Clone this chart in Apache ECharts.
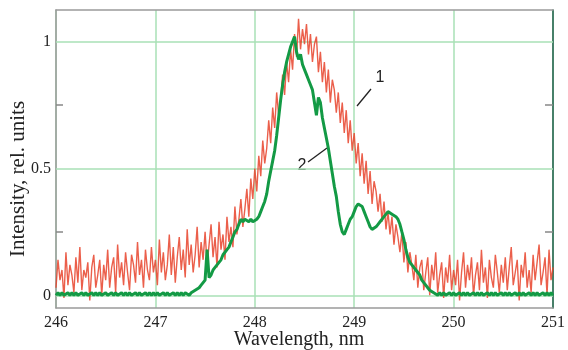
<!DOCTYPE html>
<html>
<head>
<meta charset="utf-8">
<script src="https://cdn.jsdelivr.net/npm/echarts@6/dist/echarts.min.js"></script>
<style>
html,body{margin:0;padding:0;background:#fff;}
#chart{width:568px;height:350px;}
</style>
</head>
<body>
<div id="chart"></div>
<script>
// Sampling grid of the spectra (nm)
const wavelengthStart = 246;
const wavelengthStep = 0.02;

// Curve 1 (red, noisy), one value per 0.02 nm from 246.00 to 251.00
const intensity1 = [
  0.03,0.14,0.06,0.10,-0.01,0.17,0.04,0.12,0.08,0.01,0.15,0.05,0.19,0.02,0.10,0.07,0.13,-0.02,0.11,0.16,0.03,0.08,0.14,0.00,0.12,
  0.06,0.18,0.03,0.11,0.15,0.01,0.20,0.07,0.13,0.04,0.17,0.09,0.02,0.16,0.12,0.05,0.21,0.08,0.14,0.03,0.18,0.10,0.06,0.19,0.09,
  0.14,0.04,0.22,0.09,0.17,0.06,0.12,0.24,0.08,0.19,0.05,0.15,0.23,0.10,0.18,0.07,0.26,0.12,0.20,0.09,0.16,0.27,0.11,0.21,0.14,
  0.25,0.12,0.20,0.28,0.15,0.23,0.11,0.29,0.18,0.24,0.14,0.31,0.21,0.27,0.19,0.35,0.24,0.30,0.38,0.27,0.34,0.42,0.31,0.46,0.38,
  0.50,0.41,0.55,0.47,0.61,0.52,0.58,0.69,0.60,0.74,0.66,0.80,0.71,0.77,0.87,0.79,0.92,0.84,0.97,0.89,1.03,0.94,1.09,0.97,1.05,
  0.99,1.07,0.95,1.03,0.92,0.99,1.02,0.88,0.96,0.84,0.92,0.80,0.89,0.76,0.85,0.81,0.72,0.80,0.68,0.76,0.64,0.73,0.60,0.69,0.57,
  0.64,0.52,0.60,0.47,0.56,0.44,0.53,0.40,0.49,0.36,0.45,0.41,0.33,0.40,0.29,0.37,0.26,0.33,0.24,0.31,0.20,0.28,0.23,0.17,0.25,
  0.13,0.21,0.09,0.17,0.12,0.06,0.16,0.03,0.11,0.14,0.02,0.09,0.15,0.00,0.12,0.06,0.17,0.01,0.08,0.13,-0.01,0.11,0.05,0.16,0.02,
  0.10,0.04,0.14,-0.02,0.09,0.17,0.03,0.12,0.06,0.15,0.00,0.08,0.13,0.02,0.18,0.05,0.11,-0.01,0.14,0.07,0.03,0.16,0.09,0.01,0.12,
  0.05,0.15,0.02,0.11,0.19,0.04,0.09,0.14,-0.02,0.12,0.07,0.17,0.03,0.10,0.01,0.16,0.06,0.13,0.20,0.04,0.09,0.15,0.00,0.18,0.06,
  0.11
];

// Curve 2 (green), one value per 0.02 nm from 246.00 to 251.00
const intensity2 = [
  0.00,0.01,0.00,0.01,0.00,0.00,0.01,0.00,0.01,0.00,0.01,0.00,0.00,0.01,0.00,0.01,0.00,0.00,0.01,0.00,0.01,0.00,0.01,0.00,0.00,
  0.01,0.00,0.00,0.01,0.00,0.01,0.00,0.00,0.01,0.00,0.01,0.00,0.01,0.00,0.00,0.01,0.00,0.01,0.00,0.00,0.01,0.00,0.01,0.00,0.01,
  0.00,0.01,0.00,0.00,0.01,0.00,0.01,0.00,0.00,0.01,0.00,0.01,0.00,0.01,0.00,0.01,0.01,0.00,0.01,0.01,0.02,0.02,0.03,0.04,0.05,
  0.06,0.18,0.07,0.08,0.10,0.11,0.12,0.13,0.14,0.16,0.17,0.18,0.19,0.21,0.23,0.25,0.26,0.28,0.30,0.29,0.30,0.30,0.29,0.30,0.29,
  0.29,0.30,0.31,0.33,0.35,0.37,0.40,0.45,0.49,0.53,0.57,0.63,0.70,0.77,0.83,0.88,0.92,0.95,0.98,1.00,1.02,0.96,0.93,0.95,0.91,
  0.89,0.87,0.85,0.83,0.81,0.76,0.71,0.78,0.76,0.70,0.66,0.62,0.58,0.53,0.48,0.43,0.39,0.33,0.28,0.25,0.24,0.26,0.28,0.30,0.31,
  0.33,0.35,0.36,0.36,0.35,0.33,0.31,0.29,0.27,0.26,0.26,0.27,0.28,0.29,0.30,0.31,0.32,0.33,0.33,0.32,0.32,0.31,0.30,0.28,0.25,
  0.22,0.18,0.15,0.13,0.12,0.11,0.10,0.09,0.08,0.06,0.05,0.04,0.03,0.02,0.02,0.01,0.01,0.00,0.01,0.00,0.01,0.00,0.00,0.01,0.00,
  0.01,0.00,0.00,0.01,0.00,0.01,0.00,0.01,0.00,0.00,0.01,0.00,0.01,0.00,0.01,0.00,0.00,0.01,0.00,0.01,0.00,0.01,0.00,0.00,0.01,
  0.00,0.01,0.00,0.01,0.00,0.00,0.01,0.00,0.01,0.00,0.01,0.00,0.00,0.01,0.00,0.01,0.00,0.01,0.00,0.00,0.01,0.00,0.01,0.00,0.01,
  0.00
];

// Axis ticks and labels
const xTicks = [246, 247, 248, 249, 250, 251];
const yLabelValues = [0, 0.5, 1];
const yMinorTicks = [0.25, 0.75];
const curveLabels = ['1', '2'];

const toPairs = arr => arr.map((v, i) => [+(wavelengthStart + i * wavelengthStep).toFixed(2), v]);

const serif = 'Liberation Serif, Times New Roman, serif';
const gridColor = '#a9e0b6';

const chart = echarts.init(document.getElementById('chart'), null, {renderer: 'canvas'});
chart.setOption({
  animation: false,
  backgroundColor: '#ffffff',
  grid: {left: 56, right: 10, top: 10, bottom: 42, containLabel: false},
  xAxis: [{
    type: 'value', position: 'bottom',
    min: xTicks[0], max: xTicks[xTicks.length - 1], interval: 1,
    axisLine: {show: true, onZero: false, lineStyle: {color: '#9a9a9a', width: 1.5}},
    axisTick: {show: false},
    axisLabel: {fontFamily: serif, fontSize: 16, color: '#222', margin: 7},
    splitLine: {show: true, lineStyle: {color: gridColor, width: 1.5}}
  }, {
    type: 'value', position: 'top',
    min: xTicks[0], max: xTicks[xTicks.length - 1], interval: 1,
    axisLine: {show: true, onZero: false, lineStyle: {color: '#9a9a9a', width: 1.5}},
    axisTick: {show: false}, axisLabel: {show: false}, splitLine: {show: false}
  }],
  yAxis: [{
    type: 'value', position: 'left', min: -0.05, max: 1.125,
    axisLine: {show: true, onZero: false, lineStyle: {color: '#9a9a9a', width: 1.5}},
    axisTick: {show: true, inside: true, length: 7, customValues: yMinorTicks, lineStyle: {color: '#888', width: 1.5}},
    axisLabel: {customValues: yLabelValues, fontFamily: serif, fontSize: 16, color: '#222', margin: 5,
      formatter: v => String(+v.toFixed(2))},
    splitLine: {show: false}
  }, {
    type: 'value', position: 'right', min: -0.05, max: 1.125,
    axisLine: {show: true, onZero: false, lineStyle: {color: '#1f5e4a', width: 1.5}},
    axisTick: {show: true, inside: true, length: 8, customValues: yMinorTicks, lineStyle: {color: '#888', width: 1.5}},
    axisLabel: {show: false}, splitLine: {show: false}
  }],
  series: [{
    name: curveLabels[0], type: 'line', xAxisIndex: 0, yAxisIndex: 0,
    data: toPairs(intensity1), showSymbol: false, symbol: 'none', silent: true,
    lineStyle: {color: '#e8432b', width: 1.4, opacity: 0.85},
    markLine: {
      silent: true, symbol: 'none', z: 1, label: {show: false},
      lineStyle: {color: gridColor, width: 1.5, type: 'solid'},
      data: yLabelValues.map(v => ({yAxis: v}))
    }
  }, {
    name: curveLabels[1], type: 'line', xAxisIndex: 0, yAxisIndex: 0,
    data: toPairs(intensity2), showSymbol: false, symbol: 'none', silent: true,
    lineStyle: {color: '#139a45', width: 3}
  }],
  graphic: [
    {type: 'text', x: 299, y: 340, style: {text: 'Wavelength, nm', font: '20px ' + serif, fill: '#222', textAlign: 'center', textVerticalAlign: 'middle'}},
    {type: 'text', x: 18, y: 179, rotation: Math.PI / 2, style: {text: 'Intensity, rel. units', font: '21px ' + serif, fill: '#222', textAlign: 'center', textVerticalAlign: 'middle'}},
    {type: 'text', x: 380, y: 78, style: {text: curveLabels[0], font: '16px Liberation Sans, Arial, sans-serif', fill: '#222', textAlign: 'center', textVerticalAlign: 'middle'}},
    {type: 'text', x: 302, y: 166, style: {text: curveLabels[1], font: '16px Liberation Sans, Arial, sans-serif', fill: '#222', textAlign: 'center', textVerticalAlign: 'middle'}},
    {type: 'line', shape: {x1: 357, y1: 106, x2: 371, y2: 89}, style: {stroke: '#222', lineWidth: 1.3}},
    {type: 'line', shape: {x1: 308, y1: 162, x2: 327, y2: 148}, style: {stroke: '#222', lineWidth: 1.3}}
  ]
});
</script>
</body>
</html>
